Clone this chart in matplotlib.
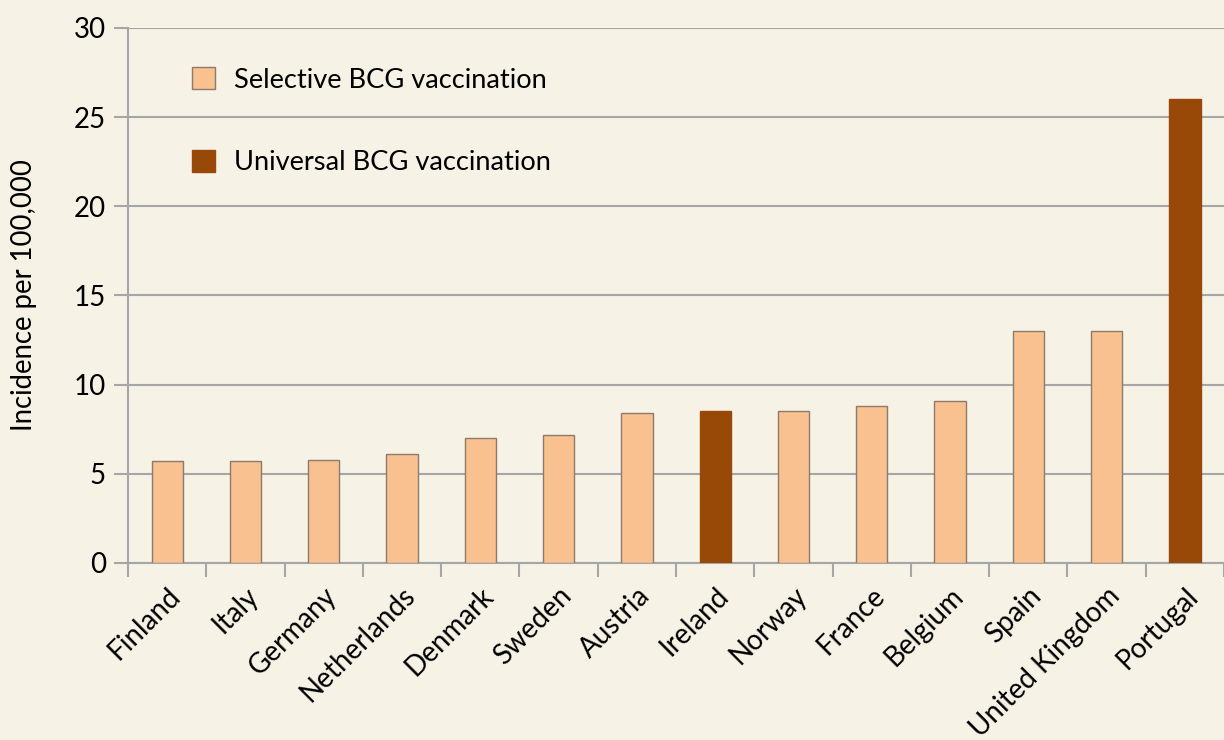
import matplotlib.pyplot as plt
from matplotlib.patches import Patch

countries = ["Finland", "Italy", "Germany", "Netherlands", "Denmark", "Sweden",
             "Austria", "Ireland", "Norway", "France", "Belgium", "Spain",
             "United Kingdom", "Portugal"]
incidence = [5.7, 5.7, 5.8, 6.1, 7.0, 7.2, 8.4, 8.5, 8.5, 8.8, 9.1, 13.0, 13.0, 26.0]
universal = ["Ireland", "Portugal"]

bg = "#F6F2E6"
light = "#F9C190"
dark = "#984807"
grey = "#A6A6A6"

plt.rcParams["font.family"] = ["Lato", "DejaVu Sans"]

fig = plt.figure(figsize=(12.24, 7.4), dpi=100, facecolor=bg)
ax = fig.add_axes([0.1046, 0.2392, 0.8954, 0.7230], facecolor=bg)

x = list(range(len(countries)))
colors = [dark if c in universal else light for c in countries]
edges = [dark if c in universal else "#8C7B6B" for c in countries]
ax.bar(x, incidence, width=0.4, color=colors, edgecolor=edges, linewidth=1, zorder=3)

ax.set_ylim(0, 30)
ax.set_xlim(-0.5, len(countries) - 0.5)
ax.set_yticks(range(0, 31, 5))
ax.yaxis.grid(True, color=grey, linewidth=1.5, zorder=0)
ax.tick_params(axis="y", length=10, width=1.5, color=grey, labelsize=20, pad=6)

ax.set_xticks(x)
ax.set_xticklabels(countries, rotation=45, ha="right", rotation_mode="anchor", fontsize=20)
ax.set_xticks([i - 0.5 for i in range(len(countries) + 1)], minor=True)
ax.tick_params(axis="x", which="major", length=0, pad=14)
ax.tick_params(axis="x", which="minor", length=10, width=1.5, color=grey)

for s in ["top", "right"]:
    ax.spines[s].set_visible(False)
for s in ["left", "bottom"]:
    ax.spines[s].set_color(grey)
    ax.spines[s].set_linewidth(1.5)

ax.set_ylabel("Incidence per 100,000", fontsize=19.8, labelpad=26)

handles = [Patch(facecolor=light, edgecolor="#8C7B6B", label="Selective BCG vaccination"),
           Patch(facecolor=dark, edgecolor=dark, label="Universal BCG vaccination")]
ax.legend(handles=handles, loc="upper left", bbox_to_anchor=(0.036, 0.972), frameon=False,
          fontsize=19.6, handlelength=0.85, handleheight=0.85, labelspacing=2.1, handletextpad=0.7)

fig.savefig("out.png", dpi=100, facecolor=bg)
